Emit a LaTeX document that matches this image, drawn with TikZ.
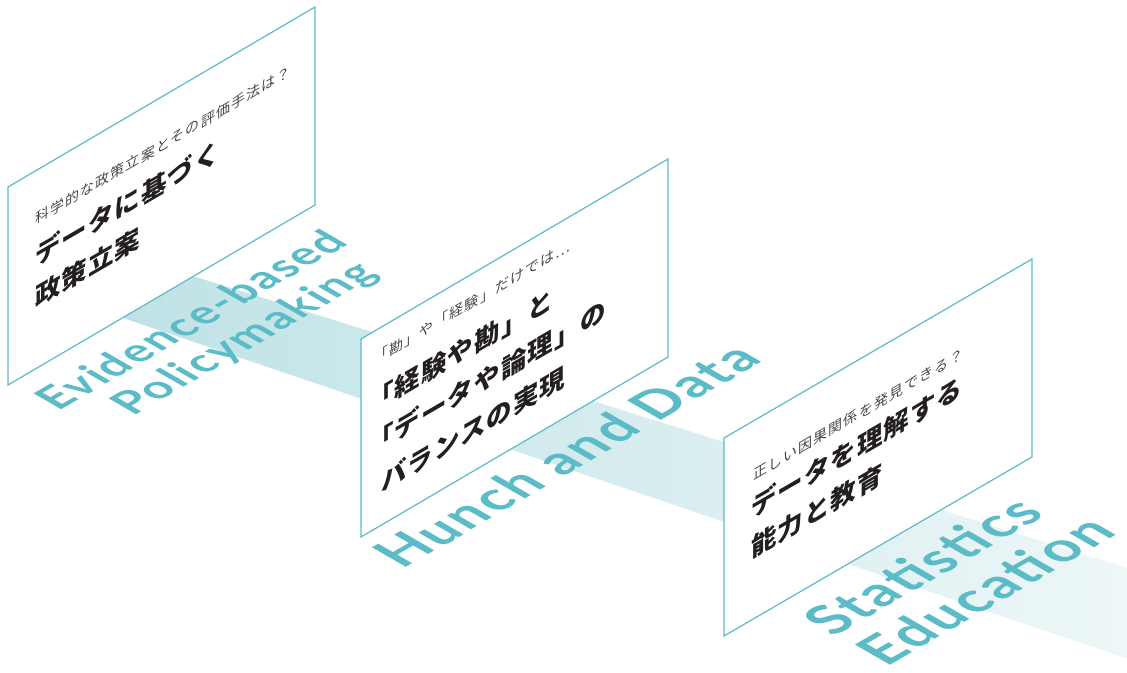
\documentclass[tikz,border=0pt]{standalone}
\usepackage{fontspec}
\newfontfamily\jpsmall{Noto Sans CJK JP}[LetterSpace=8]
\newfontfamily\jpbig{Noto Sans CJK JP}[LetterSpace=4]
\newfontfamily\enfont{Lato}[LetterSpace=5]
\definecolor{tealc}{HTML}{5BBBC6}
\definecolor{ink}{HTML}{231F1E}
\definecolor{inkl}{HTML}{4A4646}
\definecolor{bandL}{HTML}{BBE0E4}
\definecolor{bandR}{HTML}{EEF7F8}
\tikzset{
  panel/.style={draw=tealc, line width=1.2pt, fill=white, line join=miter},
  smalltxt/.style={anchor=base west, inner sep=0pt, yslant=0.583, text=inkl,
    font=\jpsmall\fontsize{14}{14}\selectfont},
  bigtxt/.style={anchor=base west, inner sep=0pt, yslant=0.583, text=ink,
    font=\jpbig\bfseries\fontsize{25.5}{25.5}\selectfont},
  floortxt/.style={anchor=base west, inner sep=0pt, cm={0.866,0.5,-0.866,0.5,(0,0)},
    text=tealc, font=\enfont\bfseries},
}
\begin{document}
\begin{tikzpicture}[x=1pt,y=1pt]
\useasboundingbox (0,0) rectangle (1127,672);
% band
\coordinate (bUL) at (20,450);
\coordinate (bUR) at (1140,100);
\coordinate (bLR) at (1140,9);
\coordinate (bLL) at (20,389);
\shade[left color=bandL, right color=bandR] (bUL) -- (bUR) -- (bLR) -- (bLL) -- cycle;
% floor texts
\node[floortxt, font=\enfont\bfseries\fontsize{44}{44}\selectfont] (ev) at (58,260) {Evidence-based};
\node[floortxt, font=\enfont\bfseries\fontsize{44}{44}\selectfont] (po) at (133,255) {Policymaking};
\node[floortxt, font=\enfont\bfseries\fontsize{54}{54}\selectfont] (hd) at (402,102) {Hunch and Data};
\node[floortxt, font=\enfont\bfseries\fontsize{56}{56}\selectfont] (st) at (833,34) {Statistics};
\node[floortxt, font=\enfont\bfseries\fontsize{56}{56}\selectfont] (ed) at (886,4) {Education};
% panel 1
\coordinate (p1a) at (8,485);
\coordinate (p1b) at (315,665);
\coordinate (p1c) at (315,467);
\coordinate (p1d) at (8,287);
\path[panel] (p1a) -- (p1b) -- (p1c) -- (p1d) -- cycle;
\node[smalltxt] (s1) at (35,447) {科学的な政策立案とその評価手法は？};
\node[bigtxt] (t1a) at (35,405) {データに基づく};
\node[bigtxt] (t1b) at (35,364) {政策立案};
% panel 2
\coordinate (p2a) at (361,333);
\coordinate (p2b) at (668,513);
\coordinate (p2c) at (668,315);
\coordinate (p2d) at (361,135);
\path[panel] (p2a) -- (p2b) -- (p2c) -- (p2d) -- cycle;
\node[smalltxt] (s2) at (381,311) {\kern-.5em「勘」や「経験」だけでは…};
\node[bigtxt] (t2a) at (381,264) {\kern-.5em「経験や勘」と};
\node[bigtxt] (t2b) at (381,222) {\kern-.5em「データや論理」の};
\node[bigtxt] (t2c) at (381,179) {バランスの実現};
% panel 3
\coordinate (p3a) at (724,234);
\coordinate (p3b) at (1032,413);
\coordinate (p3c) at (1032,215);
\coordinate (p3d) at (724,36);
\path[panel] (p3a) -- (p3b) -- (p3c) -- (p3d) -- cycle;
\node[smalltxt] (s3) at (753,191) {正しい因果関係を発見できる？};
\node[bigtxt] (t3a) at (751,153) {データを理解する};
\node[bigtxt] (t3b) at (751,113) {能力と教育};
\end{tikzpicture}
\end{document}
